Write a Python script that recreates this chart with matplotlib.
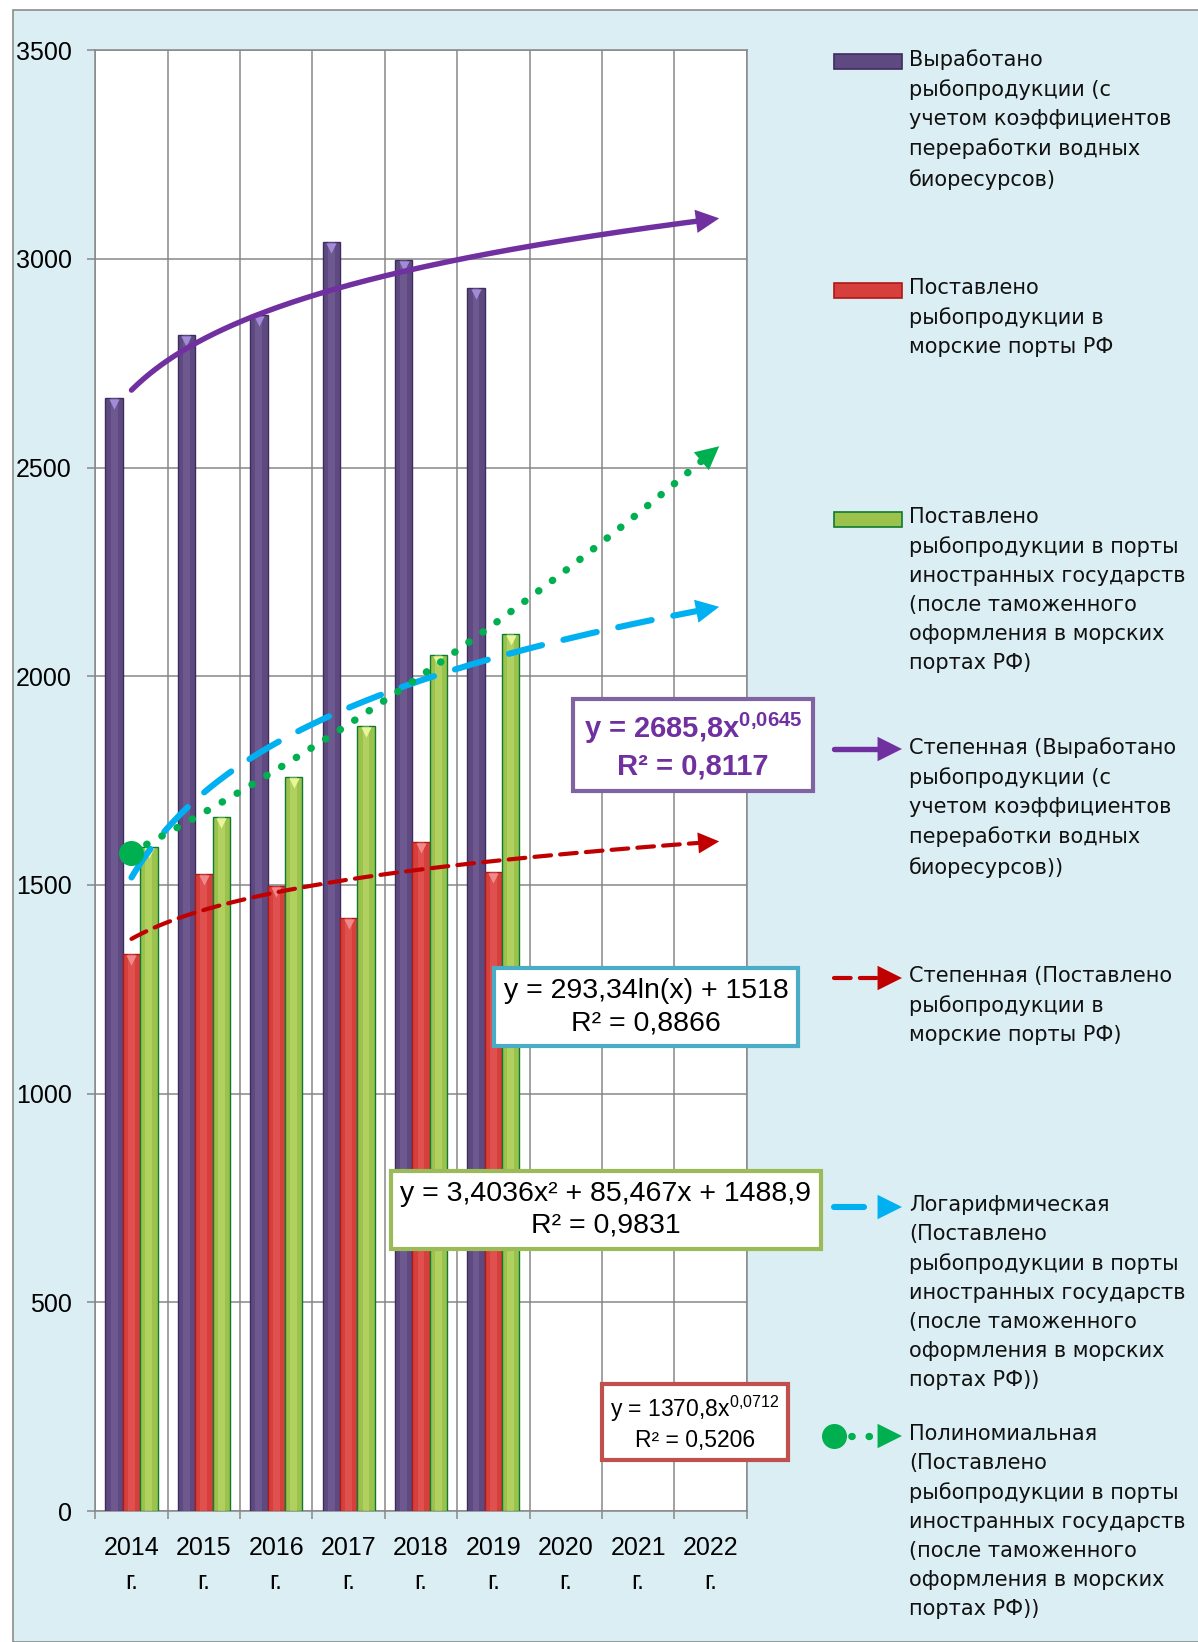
import numpy as np
import matplotlib
matplotlib.use("Agg")
import matplotlib.pyplot as plt
from matplotlib import font_manager
from matplotlib.patches import Rectangle, FancyArrowPatch
from matplotlib.lines import Line2D
from matplotlib.transforms import offset_copy

# --- data ---
years = ['2014', '2015', '2016', '2017', '2018', '2019', '2020', '2021', '2022']
produced = [2666, 2818, 2866, 3041, 2997, 2930]          # Выработано
to_rf_ports = [1334, 1526, 1498, 1420, 1602, 1532]       # в морские порты РФ
to_foreign_ports = [1590, 1664, 1758, 1880, 2050, 2102]  # в порты иностранных государств

# trendline coefficients (as shown on the chart)
pow_produced = [2685.8, 0.0645]
pow_rf = [1370.8, 0.0712]
log_foreign = [293.34, 1518.0]
poly_foreign = [3.4036, 85.467, 1488.9]

legend_labels = [
    "Выработано\nрыбопродукции (с\nучетом коэффициентов\nпереработки водных\nбиоресурсов)",
    "Поставлено\nрыбопродукции в\nморские порты РФ",
    "Поставлено\nрыбопродукции в порты\nиностранных государств\n(после таможенного\nоформления в морских\nпортах РФ)",
    "Степенная (Выработано\nрыбопродукции (с\nучетом коэффициентов\nпереработки водных\nбиоресурсов))",
    "Степенная (Поставлено\nрыбопродукции в\nморские порты РФ)",
    "Логарифмическая\n(Поставлено\nрыбопродукции в порты\nиностранных государств\n(после таможенного\nоформления в морских\nпортах РФ))",
    "Полиномиальная\n(Поставлено\nрыбопродукции в порты\nиностранных государств\n(после таможенного\nоформления в морских\nпортах РФ))",
]

# --- fonts ---
names = {f.name for f in font_manager.fontManager.ttflist}
narrow = 'Liberation Sans Narrow' if 'Liberation Sans Narrow' in names else 'Liberation Sans'
plt.rcParams['font.family'] = [narrow, 'DejaVu Sans']
plt.rcParams['mathtext.fontset'] = 'custom'
plt.rcParams['mathtext.rm'] = narrow
plt.rcParams['mathtext.bf'] = narrow + ':bold'

W, H = 1198, 1642
fig = plt.figure(figsize=(W / 100, H / 100), dpi=100, facecolor='white')

# chart area background
bg = Rectangle((12.6 / W, 0), 1.2, 1 - 10.5 / H, transform=fig.transFigure,
               facecolor='#DBEEF4', edgecolor='#8C8C8C', lw=1.2, zorder=-5)
fig.add_artist(bg)

ax = fig.add_axes([95.3 / W, 131 / H, (746.7 - 95.3) / W, (1511 - 50.3) / H])
ax.set_facecolor('white')

x = np.arange(1, len(years) + 1)
n = len(produced)
bw = 0.24
grid_c = '#878787'

def draw_bars(xs, vals, face, edge, light, cap):
    ax.bar(xs, vals, bw, color=face, edgecolor=edge, linewidth=1.0, zorder=3)
    ax.bar(xs, vals, bw * 0.4, color=light, alpha=0.35, linewidth=0, zorder=3.1)
    tr = offset_copy(ax.transData, fig=fig, x=0, y=-6, units='dots')
    ax.scatter(xs, vals, marker='v', s=55, color=cap, transform=tr, zorder=3.2, linewidths=0)

draw_bars(x[:n] - bw, produced, '#5E4A80', '#3E2C5E', '#8A74B0', '#A28BD8')
draw_bars(x[:n], to_rf_ports, '#D6403C', '#B01818', '#F07070', '#F08A8A')
draw_bars(x[:n] + bw, to_foreign_ports, '#9CC24E', '#0E7A2F', '#D8EE80', '#E8F59A')

# --- trendlines ---
xt = np.linspace(1, 9, 300)
y_pow_p = pow_produced[0] * xt ** pow_produced[1]
y_pow_r = pow_rf[0] * xt ** pow_rf[1]
y_log = log_foreign[0] * np.log(xt) + log_foreign[1]
y_poly = np.polyval(poly_foreign, xt)

def head(xs, ys, color, scale):
    arr = FancyArrowPatch((xs[-12], ys[-12]), (xs[-1] + 0.12, ys[-1] + (ys[-1] - ys[-12]) / (xs[-1] - xs[-12]) * 0.12),
                          arrowstyle='-|>', mutation_scale=scale, color=color, lw=0,
                          shrinkA=0, shrinkB=0, zorder=6, clip_on=False)
    ax.add_patch(arr)

ax.plot(xt, y_pow_p, color='#7030A0', lw=3.9, solid_capstyle='round', zorder=5)
head(xt, y_pow_p, '#7030A0', 42)
ax.plot(xt, y_pow_r, color='#C00000', lw=3.0, dashes=(4.0, 2.2), dash_capstyle='round', zorder=5)
head(xt, y_pow_r, '#C00000', 38)
ax.plot(xt, y_log, color='#00B0F0', lw=4.4, dashes=(5.6, 3.6), dash_capstyle='round', zorder=5)
head(xt, y_log, '#00B0F0', 42)
ax.plot(xt, y_poly, color='#00B050', lw=5.3, dashes=(0.05, 2.3), dash_capstyle='round', zorder=5)
ax.plot(xt[:1], y_poly[:1], 'o', color='#00B050', ms=17, zorder=6)
head(xt, y_poly, '#00B050', 42)

# --- axes styling ---
ax.set_xlim(0.5, 9.5)
ax.set_ylim(0, 3500)
ax.set_yticks(np.arange(0, 3501, 500))
ax.set_xticks(x)
ax.set_xticklabels([y + '\nг.' for y in years], fontsize=18, linespacing=1.55)
ax.set_xticks(np.arange(0.5, 9.6, 1), minor=True)
ax.tick_params(axis='x', which='major', length=0, pad=18)
ax.tick_params(axis='x', which='minor', length=6, color=grid_c, width=1.1)
ax.tick_params(axis='y', length=6, color=grid_c, width=1.1, labelsize=18, pad=11)
ax.grid(True, axis='y', which='major', color=grid_c, lw=1.1, zorder=0)
ax.grid(True, axis='x', which='minor', color=grid_c, lw=1.1, zorder=0)
ax.set_axisbelow(True)
for s in ax.spines.values():
    s.set_color(grid_c)
    s.set_linewidth(1.1)

# --- overlay in pixel coords for labels and legend ---
ov = fig.add_axes([0, 0, 1, 1], zorder=10)
ov.set_xlim(0, W)
ov.set_ylim(H, 0)
ov.axis('off')
ov.patch.set_alpha(0)

def eq_box(cx, cy, txt, color, edge, size, weight='normal'):
    ov.text(cx, cy, txt, ha='center', va='center', fontsize=size, color=color,
            fontweight=weight, linespacing=1.3, multialignment='center',
            bbox=dict(boxstyle='square,pad=0.35', facecolor='white', edgecolor=edge, lw=3))

eq_box(693, 746, 'y = 2685,8x$^{\\mathbf{0{,}0645}}$\nR² = 0,8117', '#7030A0', '#8064A2', 21, 'bold')
eq_box(646, 1007, 'y = 293,34ln(x) + 1518\nR² = 0,8866', 'black', '#4BACC6', 20.5)
eq_box(606, 1210, 'y = 3,4036x² + 85,467x + 1488,9\nR² = 0,9831', 'black', '#9BBB59', 20.5)
eq_box(695, 1423, 'y = 1370,8x$^{\\mathrm{0{,}0712}}$\nR² = 0,5206', 'black', '#C0504D', 16.5)

# legend
leg_y = [61, 290, 519, 749, 978, 1207, 1436]
px0, px1, tx = 834, 902, 909
for lab, yy in zip(legend_labels, leg_y):
    ov.text(tx, yy - 12, lab, ha='left', va='top', fontsize=15, family='DejaVu Sans',
            linespacing=1.56, color='#111111')

bar_cols = [('#5E4A80', '#3E2C5E'), ('#D6403C', '#B01818'), ('#9CC24E', '#0E7A2F')]
for (fc, ec), yy in zip(bar_cols, leg_y[:3]):
    ov.add_patch(Rectangle((px0, yy - 7), px1 - px0, 15, facecolor=fc, edgecolor=ec, lw=1.2))

def leg_arrow(yy, color):
    ov.add_patch(FancyArrowPatch((px1 - 22, yy), (px1, yy), arrowstyle='-|>', mutation_scale=44,
                                 color=color, lw=0, shrinkA=0, shrinkB=0))

ov.add_line(Line2D([px0, px1 - 18], [leg_y[3]] * 2, color='#7030A0', lw=3.9, solid_capstyle='round'))
leg_arrow(leg_y[3], '#7030A0')
ov.add_line(Line2D([px0, px1 - 22], [leg_y[4]] * 2, color='#C00000', lw=3.0, dashes=(4.0, 2.2),
                   dash_capstyle='round'))
leg_arrow(leg_y[4], '#C00000')
ov.add_line(Line2D([px0, px0 + 30], [leg_y[5]] * 2, color='#00B0F0', lw=4.4, solid_capstyle='round'))
leg_arrow(leg_y[5], '#00B0F0')
ov.add_line(Line2D([px0, px1 - 18], [leg_y[6]] * 2, color='#00B050', lw=5.3, dashes=(0.05, 2.3),
                   dash_capstyle='round'))
ov.plot([px0], [leg_y[6]], 'o', color='#00B050', ms=17)
leg_arrow(leg_y[6], '#00B050')

fig.savefig('out.png', dpi=100, facecolor='white')
